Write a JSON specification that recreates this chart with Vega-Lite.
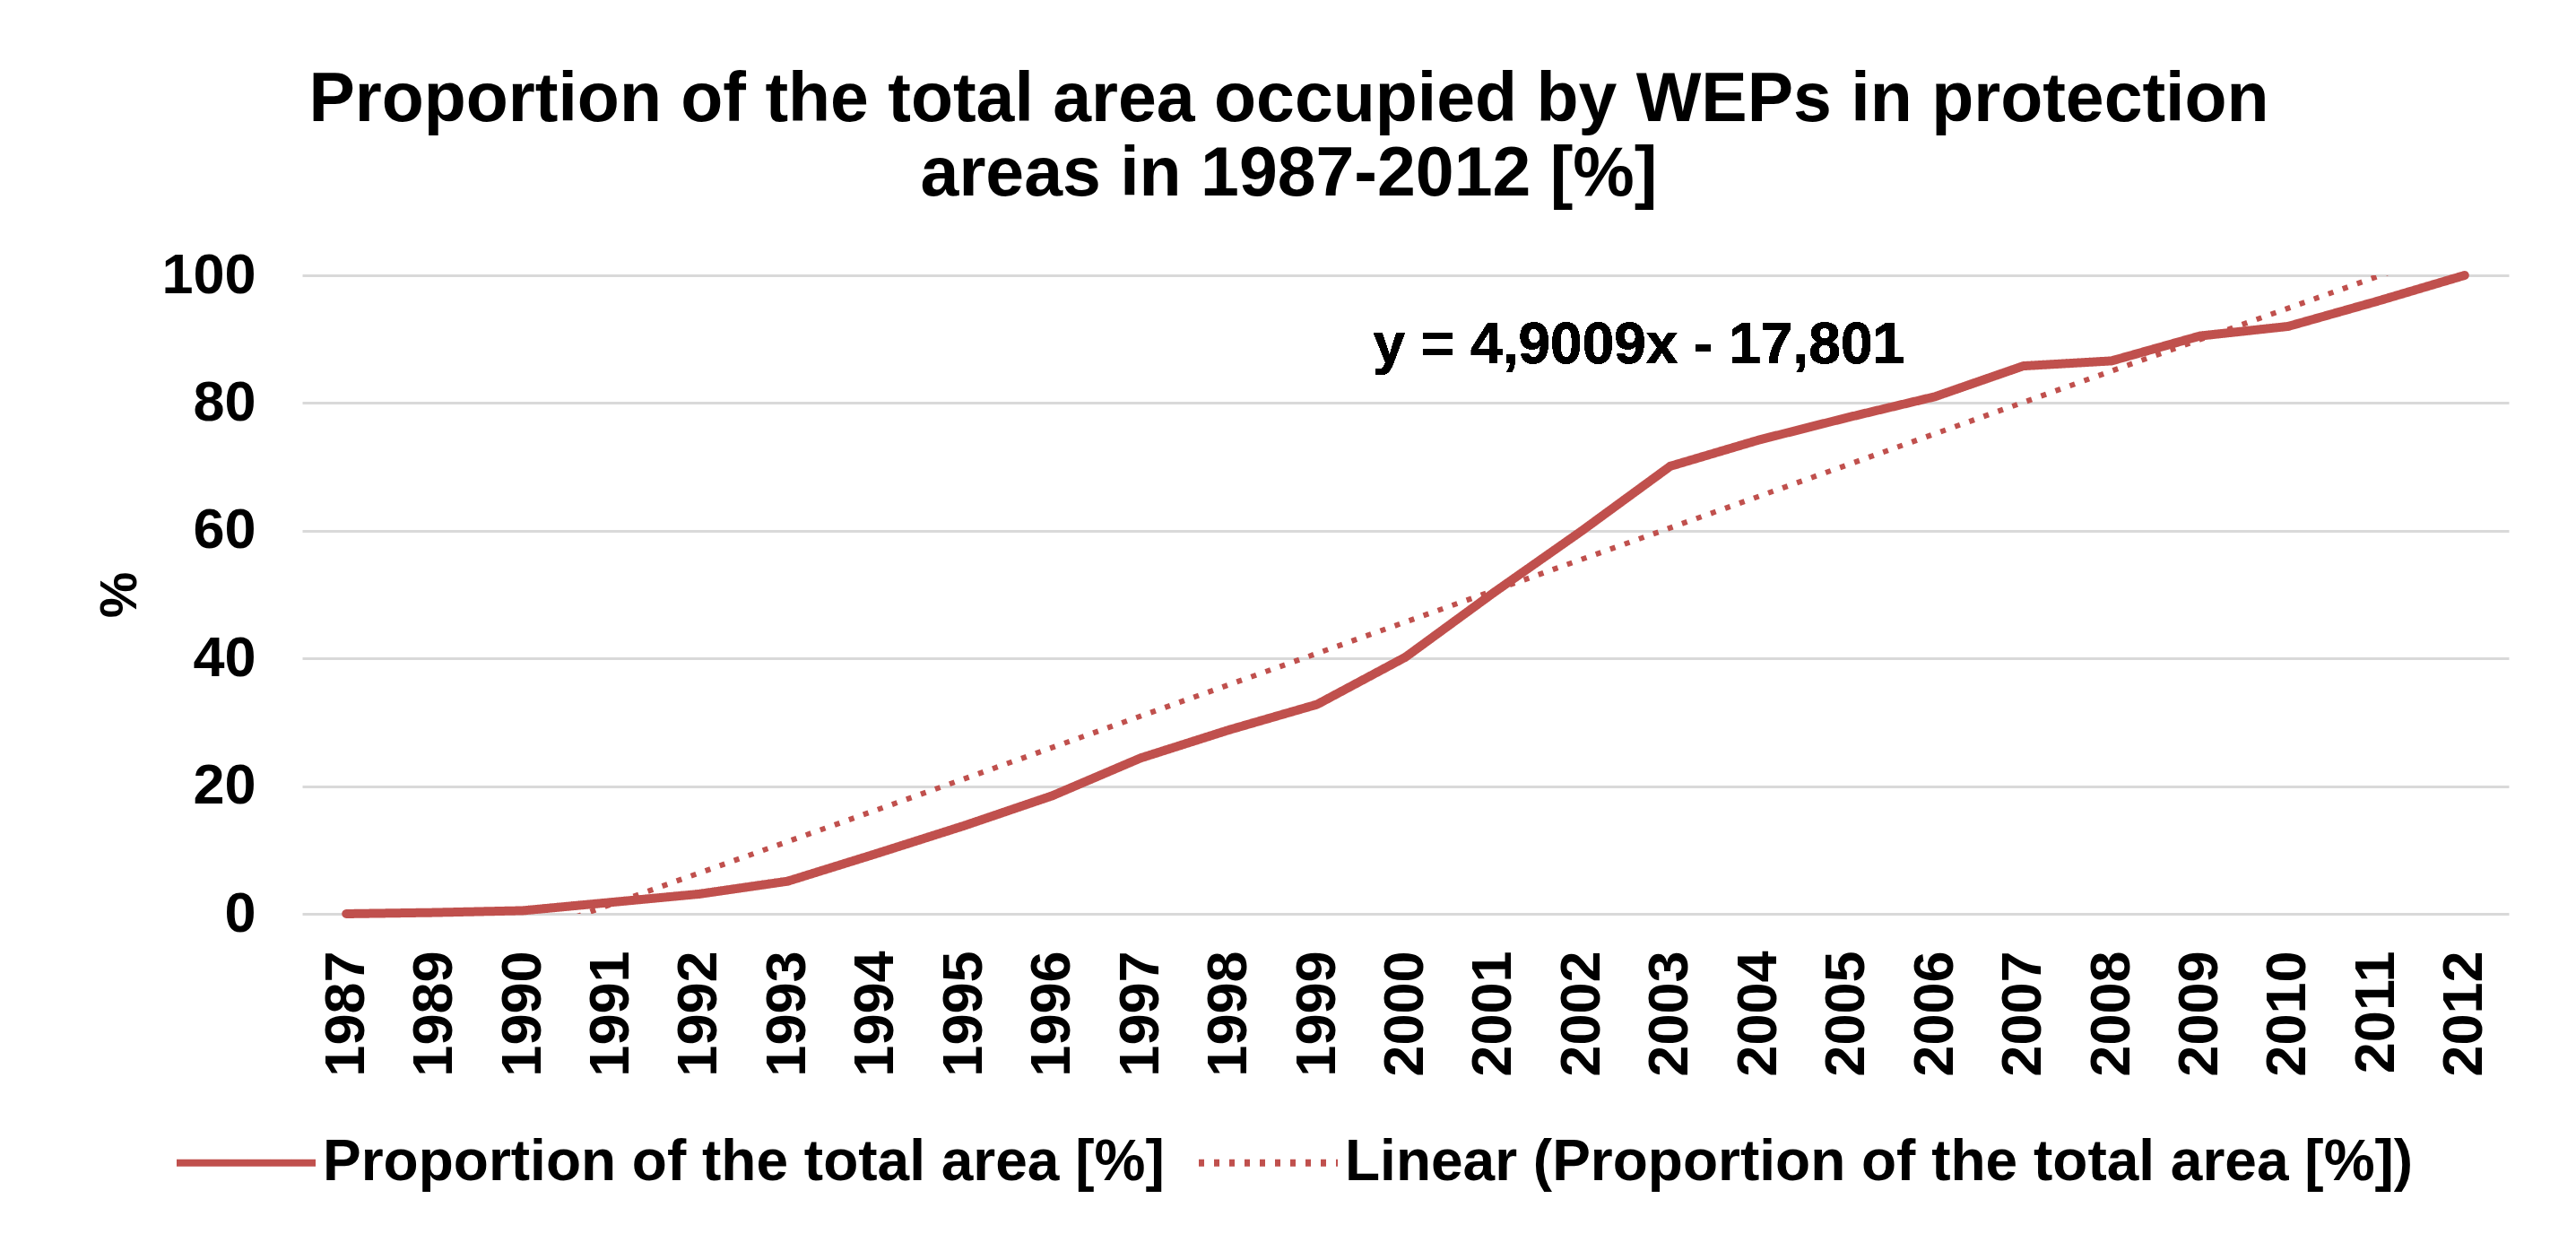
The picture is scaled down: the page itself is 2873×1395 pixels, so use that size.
{
  "$schema": "https://vega.github.io/schema/vega-lite/v6.json",
  "width": 2461,
  "height": 712,
  "autosize": "none",
  "padding": {"left": 337, "top": 307, "right": 75, "bottom": 376},
  "background": "white",
  "config": {
    "view": {"stroke": null},
    "font": "Liberation Sans",
    "legend": {
      "orient": "none",
      "legendX": -144,
      "legendY": 908,
      "direction": "horizontal",
      "padding": 0,
      "symbolType": "stroke",
      "symbolSize": 24025,
      "symbolStrokeColor": "#c0504d",
      "symbolStrokeWidth": 8,
      "labelFont": "Liberation Sans",
      "labelFontSize": 64,
      "labelFontWeight": "bold",
      "labelColor": "black",
      "labelOffset": 4,
      "labelLimit": 3000,
      "columnPadding": 22
    }
  },
  "title": {
    "text": ["Proportion of the total area occupied by WEPs in protection", "areas in 1987-2012 [%]"],
    "font": "Liberation Sans",
    "fontSize": 77,
    "fontWeight": "bold",
    "color": "black",
    "anchor": "middle",
    "dx": -130,
    "offset": 42,
    "lineHeight": 83
  },
  "data": {
    "values": [
      {"year": "1987", "value": 0},
      {"year": "1989", "value": 0.2},
      {"year": "1990", "value": 0.5},
      {"year": "1991", "value": 1.8},
      {"year": "1992", "value": 3.1},
      {"year": "1993", "value": 5.1},
      {"year": "1994", "value": 9.4},
      {"year": "1995", "value": 13.8},
      {"year": "1996", "value": 18.5},
      {"year": "1997", "value": 24.4},
      {"year": "1998", "value": 28.8},
      {"year": "1999", "value": 32.8},
      {"year": "2000", "value": 40.2},
      {"year": "2001", "value": 50.3},
      {"year": "2002", "value": 60},
      {"year": "2003", "value": 70.1},
      {"year": "2004", "value": 74.2},
      {"year": "2005", "value": 77.7},
      {"year": "2006", "value": 81},
      {"year": "2007", "value": 85.8},
      {"year": "2008", "value": 86.6},
      {"year": "2009", "value": 90.5},
      {"year": "2010", "value": 92},
      {"year": "2011", "value": 95.9},
      {"year": "2012", "value": 100}
    ]
  },
  "layer": [
    {
      "layer": [
        {
          "mark": {"type": "line", "color": "#c0504d", "strokeWidth": 10, "strokeCap": "round", "strokeJoin": "round"},
          "encoding": {
            "x": {
              "field": "year",
              "type": "ordinal",
              "sort": null,
              "scale": {"type": "point", "padding": 0.5},
              "axis": {
                "title": null,
                "labelAngle": -90,
                "labelPadding": 41,
                "labelFont": "Liberation Sans",
                "labelFontSize": 63,
                "labelFontWeight": "bold",
                "labelColor": "black",
                "ticks": false,
                "domain": false,
                "grid": false
              }
            },
            "y": {
              "field": "value",
              "type": "quantitative",
              "scale": {"domain": [0, 100]},
              "axis": {
                "title": "%",
                "titleFont": "Liberation Sans",
                "titleFontSize": 58,
                "titleFontWeight": "bold",
                "titleColor": "black",
                "titlePadding": 16,
                "values": [0, 20, 40, 60, 80, 100],
                "labelFont": "Liberation Sans",
                "labelFontSize": 63,
                "labelFontWeight": "bold",
                "labelColor": "black",
                "labelPadding": 52,
                "ticks": false,
                "domain": false,
                "gridColor": "#d9d9d9",
                "gridWidth": 3
              }
            },
            "strokeDash": {
              "datum": "Proportion of the total area [%]",
              "type": "nominal",
              "scale": {
                "domain": ["Proportion of the total area [%]", "Linear (Proportion of the total area [%])"],
                "range": [[1, 0], [6, 11]]
              },
              "legend": {"title": null}
            }
          }
        },
        {
          "mark": {
            "type": "text",
            "text": "y = 4,9009x - 17,801",
            "font": "Liberation Sans",
            "fontSize": 64,
            "fontWeight": "bold",
            "color": "black",
            "align": "center",
            "baseline": "alphabetic",
            "dx": -35
          },
          "encoding": {
            "x": {"datum": "2003", "type": "ordinal"},
            "y": {"datum": 86.2, "type": "quantitative"}
          }
        }
      ]
    },
    {
      "transform": [
        {"window": [{"op": "row_number", "as": "idx"}]},
        {"regression": "value", "on": "idx", "method": "linear", "extent": [1, 25]}
      ],
      "mark": {"type": "line", "color": "#c0504d", "strokeWidth": 6, "clip": true, "strokeCap": "butt"},
      "encoding": {
        "x": {"field": "idx", "type": "quantitative", "scale": {"domain": [0.5, 25.5]}, "axis": null},
        "y": {"field": "value", "type": "quantitative"},
        "strokeDash": {"datum": "Linear (Proportion of the total area [%])", "type": "nominal"}
      }
    }
  ],
  "resolve": {"scale": {"x": "independent"}}
}
